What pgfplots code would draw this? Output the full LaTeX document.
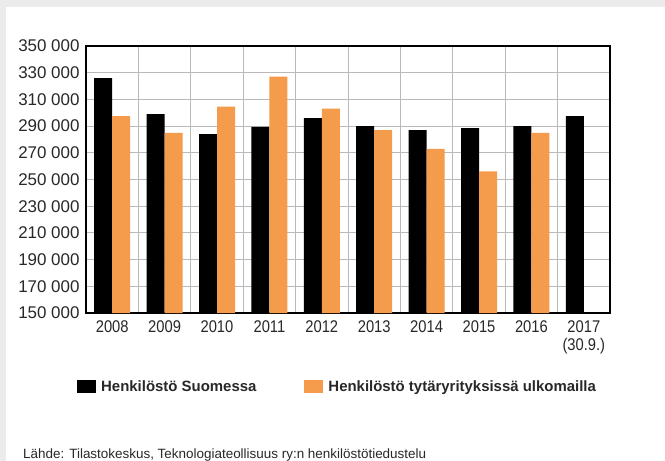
\documentclass[border=0pt]{standalone}
\usepackage{fontspec}
\setmainfont{Liberation Sans}
\newfontfamily\condfont[FakeStretch=0.87]{Liberation Sans}
\usepackage{pgfplots}
\pgfplotsset{compat=1.18}
\definecolor{barorange}{RGB}{244,155,76}
\definecolor{bggray}{RGB}{235,235,235}
\definecolor{gridgray}{RGB}{185,185,185}
\definecolor{txt}{RGB}{40,40,40}
\begin{document}
\begin{tikzpicture}
\fill[bggray] (0,0) rectangle (665bp,-461bp);
\fill[white] (6bp,-7bp) rectangle (665bp,-461bp);
\useasboundingbox (0,0) rectangle (665bp,-461bp);
\begin{axis}[
  at={(86bp,-313bp)}, anchor=south west,
  scale only axis, width=524bp, height=267bp,
  ybar=0pt, bar width=18bp,
  xmin=-0.5, xmax=9.5, ymin=150000, ymax=350000,
  scaled y ticks=false,
  xtick={0,1,2,3,4,5,6,7,8,9},
  xticklabels={2008,2009,2010,2011,2012,2013,2014,2015,2016,{2017\\(30.9.)}},
  minor xtick={-0.5,0.5,1.5,2.5,3.5,4.5,5.5,6.5,7.5,8.5,9.5},
  ytick={150000,170000,190000,210000,230000,250000,270000,290000,310000,330000,350000},
  yticklabels={150 000,170 000,190 000,210 000,230 000,250 000,270 000,290 000,310 000,330 000,350 000},
  xminorgrids=true, ymajorgrids=true, xmajorgrids=false,
  grid style={gridgray, line width=1bp},
  minor grid style={gridgray, line width=1bp},
  major tick length=0pt, minor tick length=0pt,
  axis line style={black, line width=1.2bp},
  yticklabel style={font=\fontsize{17}{17}\selectfont, text=txt, xshift=-3bp},
  xticklabel style={font=\condfont\fontsize{17}{18}\selectfont, text=txt, align=center, yshift=-4bp},
  legend columns=2,
  legend style={at={(-0.0172,-0.277)}, anchor=west, draw=none, fill=none, inner sep=0pt,
    font=\bfseries\fontsize{15}{15}\selectfont, text=txt,
    /tikz/every odd column/.append style={column sep=3bp},
    /tikz/every even column/.append style={column sep=46bp}},
  legend image code/.code={\fill[#1,draw=none] (0bp,-6.5bp) rectangle (19bp,6.5bp);},
]
\addplot[fill=black, draw=none] coordinates {
 (0,326000) (1,299000) (2,284000) (3,289500) (4,296000)
 (5,290000) (6,287000) (7,288500) (8,290000) (9,297500)};
\addplot[fill=barorange, draw=none] coordinates {
 (0,297500) (1,285000) (2,304500) (3,327000) (4,303000)
 (5,287000) (6,273000) (7,256000) (8,285000)};
\legend{Henkilöstö Suomessa, Henkilöstö tytäryrityksissä ulkomailla}
\end{axis}
\node[anchor=base west, inner sep=0pt, font=\fontsize{13.5}{13.5}\selectfont, text=txt] at (23bp,-458bp)
  {Lähde: Tilastokeskus, Teknologiateollisuus ry:n henkilöstötiedustelu};
\end{tikzpicture}
\end{document}
